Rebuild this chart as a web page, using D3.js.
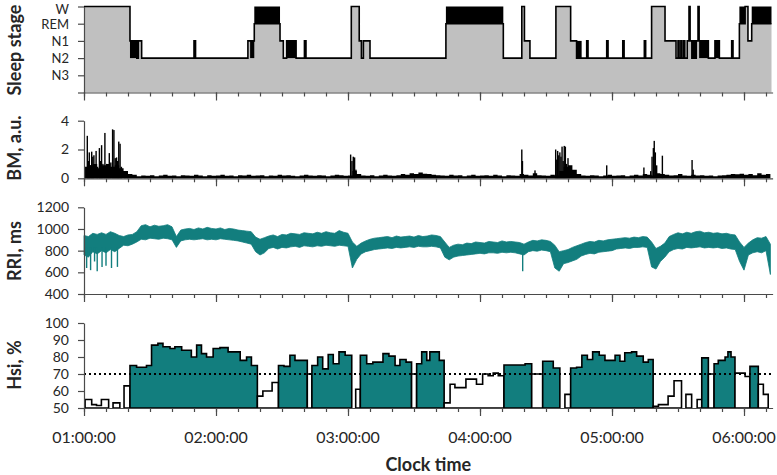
<!DOCTYPE html>
<html><head><meta charset="utf-8">
<script src="https://cdn.jsdelivr.net/npm/d3@7"></script>
<style>body{margin:0;background:#fff}svg{display:block}text{font-family:Lato,"Open Sans",sans-serif}</style>
</head><body><svg id="c" width="777" height="475"></svg>
<script>
// ---------- DATA ----------
const timeTicks = ["01:00:00","02:00:00","03:00:00","04:00:00","05:00:00","06:00:00"];
const stageLabels = ["N3","N2","N1","REM","W"]; // levels 1..5
// minutes after 01:00:00
const hypStart = [0,20.9,24.0,24.7,26.2,50.0,50.7,74.5,77.4,89.1,90.6,92.1,96.4,100.2,100.9,121.5,125.1,126.1,127.0,130.0,164.5,190.6,199.0,200.2,202.7,214.5,221.2,223.9,228.5,229.1,237.6,238.2,244.9,245.5,254.7,255.3,258.0,264.1,269.1,270.0,270.5,271.3,271.8,272.6,273.1,274.2,275.0,275.5,276.3,277.0,277.6,278.3,279.1,279.6,283.8,286.8,288.8,294.4,295.0,297.9,300.5,301.8,303.5];
const hypStage = ["W","N1","N2","N1","N2","N1","N2","N1","REM","N1","N2","N1","N2","N1","N2","W","N1","N2","N1","N2","REM","N2","W","N1","N2","W","N1","N2","N1","N2","N1","N2","N1","N2","N1","N2","W","N1","N2","N1","N2","N1","N2","N1","N2","N1","W","N1","N2","N1","N2","N1","W","N1","N2","N1","N2","N1","N2","REM","W","N1","REM"];
const hypEnd = 312.5;
const n1n2Bands = [[20.9,24.0],[75.5,77.4],[92.1,96.4],[223.9,226.2],[276.3,278.3],[279.6,283.8],[286.8,288.8]];

// BM, a.u. : baseline every 2 min + spikes [minute, value]
const bmBase = [0.8,0.9,1.0,0.7,0.9,1.0,0.8,0.9,0.7,0.5,
0.3,0.25,0.15,0.2,0.18,0.22,0.15,0.2,0.25,0.18,
0.2,0.15,0.22,0.2,0.18,0.25,0.2,0.15,0.22,0.18,
0.2,0.25,0.18,0.2,0.15,0.22,0.2,0.25,0.18,0.2,
0.22,0.15,0.2,0.18,0.25,0.2,0.22,0.18,0.15,0.2,
0.25,0.2,0.18,0.22,0.2,0.15,0.2,0.25,0.22,0.18,
0.2,0.5,0.3,0.2,0.18,0.22,0.15,0.2,0.25,0.2,
0.18,0.22,0.3,0.25,0.35,0.3,0.4,0.32,0.3,0.25,
0.22,0.2,0.18,0.25,0.2,0.22,0.15,0.2,0.25,0.18,
0.2,0.22,0.18,0.25,0.2,0.15,0.22,0.2,0.18,0.3,
0.25,0.2,0.35,0.22,0.2,0.18,0.25,0.2,0.5,0.8,
0.9,0.6,0.3,0.2,0.18,0.22,0.2,0.15,0.2,0.25,
0.18,0.2,0.22,0.15,0.2,0.25,0.2,0.3,0.25,0.2,
0.35,0.3,0.25,0.2,0.22,0.3,0.2,0.18,0.25,0.2,
0.22,0.18,0.2,0.15,0.2,0.22,0.25,0.3,0.28,0.32,
0.25,0.3,0.22,0.35,0.25,0.3,0.2];
const bmSpikes = [[0.5,0.7],[1.5,2.95],[2.0,1.2],[2.4,1.8],[3.0,0.9],[3.5,1.85],[4.0,1.5],[4.5,1.6],[5.5,1.9],[6.2,0.8],[7.0,2.1],[7.5,1.2],[8.0,2.3],[8.6,1.0],[9.5,3.15],[10.3,1.0],[11.0,0.9],[11.5,1.75],[12.2,1.1],[13.0,3.4],[13.6,3.35],[14.2,1.4],[14.8,1.45],[15.3,1.2],[15.8,2.55],[16.4,2.4],[17.0,0.8],[18.6,0.5],[19.7,0.3],
[121.2,1.65],[121.8,1.2],[122.4,1.5],[123.0,1.45],[123.6,0.6],
[199.0,2.0],[199.3,1.2],[205.0,0.55],
[214.4,2.0],[214.9,1.3],[215.3,1.9],[215.8,1.6],[216.3,1.8],[216.8,1.5],[217.3,2.2],[217.8,1.2],[218.3,2.25],[218.8,2.2],[219.3,1.0],[220.0,1.4],[220.5,0.6],
[237.6,0.9],[254.5,0.75],[257.6,0.5],[258.2,1.5],[258.8,2.1],[259.2,2.6],[259.7,1.8],[260.3,0.9],[262.9,1.57],[276.4,1.27],[276.9,0.6]];

// RRI, ms : envelope every 2 min + sharp dips
const rriHi = [940,930,960,950,965,950,975,960,940,930,
945,950,975,1030,1040,1020,1035,1025,1030,1040,
1020,930,990,1000,1005,995,1010,1000,1015,1005,
1000,1010,995,1005,1000,990,985,980,975,925,
905,920,935,945,930,950,945,960,955,950,
965,960,955,970,960,975,965,960,985,970,
960,880,840,870,890,905,915,920,925,930,
920,935,925,930,935,925,940,930,935,945,
940,930,880,830,850,860,855,870,865,880,
875,870,885,880,875,890,880,885,880,875,
860,880,895,890,900,895,885,850,790,800,
810,830,845,860,875,885,880,895,890,900,
905,910,915,920,915,925,920,930,925,880,
820,840,870,930,950,965,955,970,960,975,
980,965,970,960,965,955,960,950,945,880,
830,870,900,920,915,930,860];
const rriLo = [760,740,790,770,800,780,810,790,820,850,
845,860,880,905,900,915,910,905,915,910,
900,830,890,900,905,900,905,910,900,905,
900,910,905,900,895,890,880,870,860,790,
760,780,820,830,815,830,825,835,840,830,
845,840,835,845,840,850,845,840,850,845,
840,640,720,770,790,800,810,815,820,825,
820,830,825,830,835,830,840,835,835,840,
835,825,740,715,740,750,755,760,765,770,
775,770,780,780,775,785,780,785,780,770,
760,790,800,795,805,800,790,640,610,680,
690,705,720,750,765,775,770,785,790,795,
800,815,820,825,820,830,830,835,830,650,
630,700,740,790,810,820,815,830,825,830,
835,825,830,825,830,820,825,815,810,700,
620,760,780,790,780,800,580];
const rriDips = [[1.2,640],[3.0,620],[4.8,700],[6.0,610],[8.2,650],[10.0,660],[12.5,640],[15.2,650],[199.4,610]];

// Hsi, % : step values starting at minute
const hsiStart = [0.5,3.5,5.7,7.9,11.2,13.2,16.3,18.2,20.9,23.9,28.4,30.7,33.6,35.9,39.1,41.3,44.4,48.8,51.2,53.4,55.7,58.7,61.8,65.5,71.0,73.9,76.1,78.8,81.3,85.5,88.4,90.9,93.6,95.9,101.5,103.6,106.2,108.5,111.0,113.3,115.9,118.7,121.7,123.5,125.6,128.5,131.3,135.9,138.6,141.4,143.6,146.4,148.9,151.2,153.5,155.8,157.2,161.5,163.7,166.4,168.6,173.6,178.4,181.2,183.7,186.0,188.3,190.9,200.5,203.5,208.5,213.3,216.3,218.6,221.2,223.9,226.3,228.8,231.2,234.2,236.8,241.4,243.6,245.8,248.9,251.2,254.2,256.5,258.7,261.1,265.5,268.2,271.6,273.6,276.2,278.7,280.8,283.8,286.4,288.3,291.4,292.7,294.1,295.9,300.5,302.7,306.5,308.8];
const hsiValue = [55,52,51.5,55,50,53,50,63,75,74,75,87,88,86,85,86,84,80,87,82,80,85,85.5,83,78,80,75,57,60,65,75,74.5,81,78,70,75,80,73,81.5,76,83,81,50,61,81,76,77,82,80.5,75,78.5,77,70,76,83,78,83,78,53,64,62,67,64,70,69,70.5,69,75.3,76,70,77.5,73.5,50,58,73.5,74,81,78.5,83,81,78,81,77.5,82.5,83,80.5,77,78.5,51,52,57,66,50,58,50,55,79.5,70,76,78,80,83,80,70.5,68.5,74.5,64,58];
const hsiEnd = 311.0;
const hsiThreshold = 70;

// ---------- DRAW ----------
const svg = d3.select("#c");
const teal = "#127e7e", axisColor = "#4a4a4a", textColor = "#262626";
const x = d3.scaleLinear().domain([0, 313]).range([84, 772.6]);
const hourMin = timeTicks.map(t => (+t.slice(0,2) - 1) * 60);

function styleAxis(g){
  g.selectAll("path,line").attr("stroke", axisColor).attr("stroke-width", 1.2);
  g.selectAll("text").attr("fill", textColor).style("font-size","14px").style("font-family","Lato, sans-serif");
}
function bottomAxis(yPos){
  const minor = d3.range(0, 311, 10);
  svg.append("g").attr("transform",`translate(0,${yPos})`)
    .call(d3.axisBottom(x).tickValues(minor).tickSize(4).tickSizeOuter(0).tickFormat(""))
    .call(styleAxis);
  svg.append("g").attr("transform",`translate(0,${yPos})`)
    .call(d3.axisBottom(x).tickValues(hourMin).tickSize(8).tickFormat(""))
    .call(g=>g.select(".domain").remove()).call(styleAxis);
}
function leftAxis(scale, vals, fmt){
  return svg.append("g").attr("transform","translate(84,0)")
    .call(d3.axisLeft(scale).tickValues(vals).tickSize(6).tickSizeOuter(0).tickPadding(9).tickFormat(fmt))
    .call(styleAxis);
}
function yTitle(txt, cy){
  svg.append("text").attr("transform",`translate(21,${cy}) rotate(-90)`)
    .attr("text-anchor","middle").attr("fill",textColor)
    .style("font-size","18px").style("font-weight","bold").text(txt);
}

// Panel 1: hypnogram
const yS = d3.scaleLinear().domain([0,5]).range([92.5,6.5]);
const lvl = s => stageLabels.indexOf(s) + 1;
const hyp = hypStart.map((s,i)=>({t:s, l:lvl(hypStage[i]), st:hypStage[i], e: i<hypStart.length-1 ? hypStart[i+1] : hypEnd}));
const hypPts = hyp.concat([{t:hypEnd, l:hyp[hyp.length-1].l}]);
svg.append("path").datum(hypPts)
  .attr("d", d3.area().curve(d3.curveStepAfter).x(d=>x(d.t)).y0(yS(0)).y1(d=>yS(d.l)))
  .attr("fill","#c0c0c0");
svg.selectAll(".rem").data(hyp.filter(d=>d.st==="REM")).enter().append("rect")
  .attr("x",d=>x(d.t)).attr("width",d=>x(d.e)-x(d.t))
  .attr("y",yS(5)).attr("height",yS(4)-yS(5)).attr("fill","#000");
svg.selectAll(".band").data(n1n2Bands).enter().append("rect")
  .attr("x",d=>x(d[0])).attr("width",d=>x(d[1])-x(d[0]))
  .attr("y",yS(3)).attr("height",yS(2)-yS(3)).attr("fill","#000");
svg.append("path").datum(hypPts)
  .attr("d", d3.line().curve(d3.curveStepAfter).x(d=>x(d.t)).y(d=>yS(d.l)))
  .attr("fill","none").attr("stroke","#000").attr("stroke-width",1.6);
const ax1 = leftAxis(yS, [0,1,2,3,4,5], d => d===0 ? "" : stageLabels[d-1]);
ax1.selectAll("text").style("font-size","13px");
ax1.selectAll(".tick").filter(d=>d===5).select("text").attr("dy","0.5em");
ax1.selectAll(".tick").filter(d=>d===4).select("text").attr("dy","0.4em");
bottomAxis(yS(0));
yTitle("Sleep stage", 50);

// Panel 2: BM
const yB = d3.scaleLinear().domain([0,4]).range([178.3,120.7]);
const bmPts = bmBase.map((v,i)=>({t:i*2, v})).filter(d=>d.t<=hsiEnd+1);
svg.append("path").datum(bmPts)
  .attr("d", d3.area().curve(d3.curveStepAfter).x(d=>x(d.t)).y0(yB(0)).y1(d=>yB(d.v)))
  .attr("fill","#000");
svg.selectAll(".bms").data(bmSpikes).enter().append("rect")
  .attr("x",d=>x(d[0])-0.7).attr("width",1.4)
  .attr("y",d=>yB(d[1])).attr("height",d=>yB(0)-yB(d[1])).attr("fill","#000");
leftAxis(yB, [0,2,4], d3.format("d"));
bottomAxis(yB(0));
yTitle("BM, a.u.", 148);

// Panel 3: RRI
const yR = d3.scaleLinear().domain([400,1200]).range([294,207.3]);
const rriPts = rriHi.map((h,i)=>({t:Math.min(i*2, 312.5), h, l:rriLo[i]}));
svg.append("path").datum(rriPts)
  .attr("d", d3.area().x(d=>x(d.t)).y0(d=>yR(d.l)).y1(d=>yR(d.h)))
  .attr("fill",teal).attr("stroke",teal).attr("stroke-width",0.8);
svg.selectAll(".dip").data(rriDips).enter().append("line")
  .attr("x1",d=>x(d[0])).attr("x2",d=>x(d[0]))
  .attr("y1",yR(830)).attr("y2",d=>yR(d[1]))
  .attr("stroke",teal).attr("stroke-width",1.4);
leftAxis(yR, [400,600,800,1000,1200], d3.format("d"));
bottomAxis(yR(400));
yTitle("RRI, ms", 251);

// Panel 4: Hsi
const yH = d3.scaleLinear().domain([50,100]).range([408,323]);
const segs = hsiStart.map((s,i)=>({s, e: i<hsiStart.length-1 ? hsiStart[i+1] : hsiEnd, v: hsiValue[i]}));
const runs = [];
segs.forEach(d=>{
  const cls = d.v <= 50 ? "gap" : (d.v > hsiThreshold + 0.8 ? "hi" : "lo");
  const last = runs[runs.length-1];
  if (last && last.cls === cls) last.segs.push(d); else runs.push({cls, segs:[d]});
});
svg.selectAll(".run").data(runs.filter(r=>r.cls!=="gap")).enter().append("path")
  .attr("d", r=>{
    const p = d3.path();
    p.moveTo(x(r.segs[0].s), yH(50));
    r.segs.forEach(d=>{ p.lineTo(x(d.s), yH(d.v)); p.lineTo(x(d.e), yH(d.v)); });
    p.lineTo(x(r.segs[r.segs.length-1].e), yH(50));
    p.closePath();
    return p.toString();
  })
  .attr("fill", r=> r.cls==="hi" ? teal : "#fff")
  .attr("stroke","#000").attr("stroke-width",1.6).attr("stroke-linejoin","miter");
svg.append("line").attr("x1",x(0)).attr("x2",x(313)).attr("y1",yH(hsiThreshold)).attr("y2",yH(hsiThreshold))
  .attr("stroke","#000").attr("stroke-width",2).attr("stroke-dasharray","2,3");
leftAxis(yH, [50,60,70,80,90,100], d3.format("d"));
bottomAxis(yH(50));
yTitle("Hsi, %", 365);

// time labels
svg.selectAll(".tl").data(timeTicks).enter().append("text")
  .attr("x",(d,i)=>x(hourMin[i])).attr("y",443).attr("text-anchor","middle")
  .attr("fill",textColor).style("font-size","16px").text(d=>d);
svg.append("text").attr("x",(x(0)+x(313))/2).attr("y",471).attr("text-anchor","middle")
  .attr("fill",textColor).style("font-size","18px").style("font-weight","bold").text("Clock time");
</script></body></html>
